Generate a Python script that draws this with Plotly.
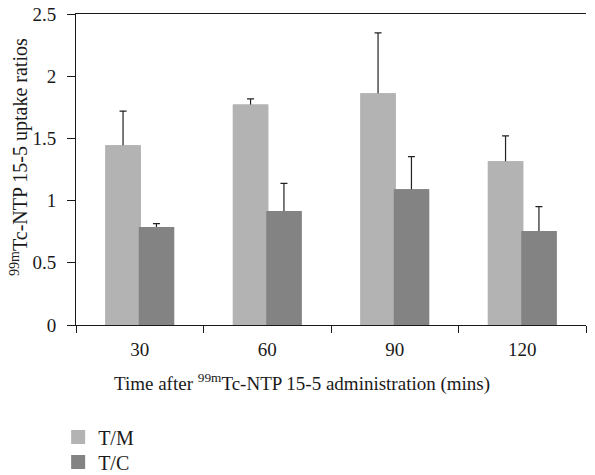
import plotly.graph_objects as go

categories = ["30", "60", "90", "120"]
tm_values = [1.437, 1.765, 1.854, 1.309]
tm_errors = [0.283, 0.053, 0.494, 0.211]
tc_values = [0.780, 0.908, 1.084, 0.748]
tc_errors = [0.035, 0.230, 0.270, 0.203]
y_ticks = [0, 0.5, 1, 1.5, 2, 2.5]
y_tick_labels = ["0", "0.5", "1", "1.5", "2", "2.5"]

FONT = "Liberation Serif"
FS = 19
TM_COLOR = "#b3b3b3"
TC_COLOR = "#828382"
# lower whisker kept tiny so it hides inside the bar (only upper error is shown)
HIDDEN_LOWER = [0.03] * len(categories)

fig = go.Figure()
# bars carrying the error bars
fig.add_trace(go.Bar(
    x=categories, y=tm_values, name="T/M", legend="legend", offsetgroup="tm",
    marker=dict(color=TM_COLOR, line=dict(width=2, color=TM_COLOR)),
    error_y=dict(type="data", array=tm_errors, arrayminus=HIDDEN_LOWER, symmetric=False,
                 color="#222222", thickness=1.2, width=3.5),
))
fig.add_trace(go.Bar(
    x=categories, y=tc_values, name="T/C", legend="legend2", offsetgroup="tc",
    marker=dict(color=TC_COLOR, line=dict(width=2, color=TC_COLOR)),
    error_y=dict(type="data", array=tc_errors, arrayminus=HIDDEN_LOWER, symmetric=False,
                 color="#222222", thickness=1.2, width=3.5),
))
# same bars drawn again on top, hiding the lower end of the whiskers
fig.add_trace(go.Bar(
    x=categories, y=tm_values, name="T/M", showlegend=False, offsetgroup="tm",
    marker=dict(color=TM_COLOR, line=dict(width=2, color=TM_COLOR)), hoverinfo="skip",
))
fig.add_trace(go.Bar(
    x=categories, y=tc_values, name="T/C", showlegend=False, offsetgroup="tc",
    marker=dict(color=TC_COLOR, line=dict(width=2, color=TC_COLOR)), hoverinfo="skip",
))

legend_common = dict(x=-0.035, xanchor="left", yanchor="middle",
                     font=dict(family=FONT, size=20, color="#1a1a1a"),
                     itemwidth=30, bgcolor="rgba(0,0,0,0)")

fig.update_layout(
    width=595, height=475,
    margin=dict(l=76, r=9, t=14, b=150, autoexpand=False),
    paper_bgcolor="white", plot_bgcolor="white",
    barmode="group", bargap=0.476, bargroupgap=0,
    font=dict(family=FONT, size=FS, color="#1a1a1a"),
    showlegend=True,
    legend=dict(y=-0.360, **legend_common),
    legend2=dict(y=-0.4405, **legend_common),
    xaxis=dict(
        type="category", showline=True, linecolor="#1a1a1a", linewidth=1,
        mirror=True, ticks="outside", tickson="boundaries", ticklen=7,
        tickcolor="#1a1a1a", showgrid=False, zeroline=False, automargin=False,
        ticklabelstandoff=7,
        tickfont=dict(family=FONT, size=FS),
    ),
    yaxis=dict(
        range=[0, 2.5], tickvals=y_ticks, ticktext=y_tick_labels,
        showline=True, linecolor="#1a1a1a", linewidth=1,
        ticks="outside", ticklen=8, tickcolor="#1a1a1a",
        showgrid=False, zeroline=False, automargin=False,
        ticklabelstandoff=7,
        tickfont=dict(family=FONT, size=FS),
    ),
    annotations=[
        dict(text="Time after <sup>99m</sup>Tc-NTP 15-5 administration (mins)",
             xref="paper", yref="paper", x=0.443, y=-0.186,
             xanchor="center", yanchor="middle", showarrow=False,
             font=dict(family=FONT, size=FS, color="#1a1a1a")),
        dict(text="<sup>99m</sup>Tc-NTP 15-5 uptake ratios",
             xref="paper", yref="paper", x=-0.112, y=0.54,
             xanchor="center", yanchor="middle", showarrow=False, textangle=-90,
             font=dict(family=FONT, size=20, color="#1a1a1a")),
    ],
)

fig.write_html("out.html", config={"displayModeBar": False},
               post_script="document.body.style.margin='0';document.body.style.overflow='hidden';")
